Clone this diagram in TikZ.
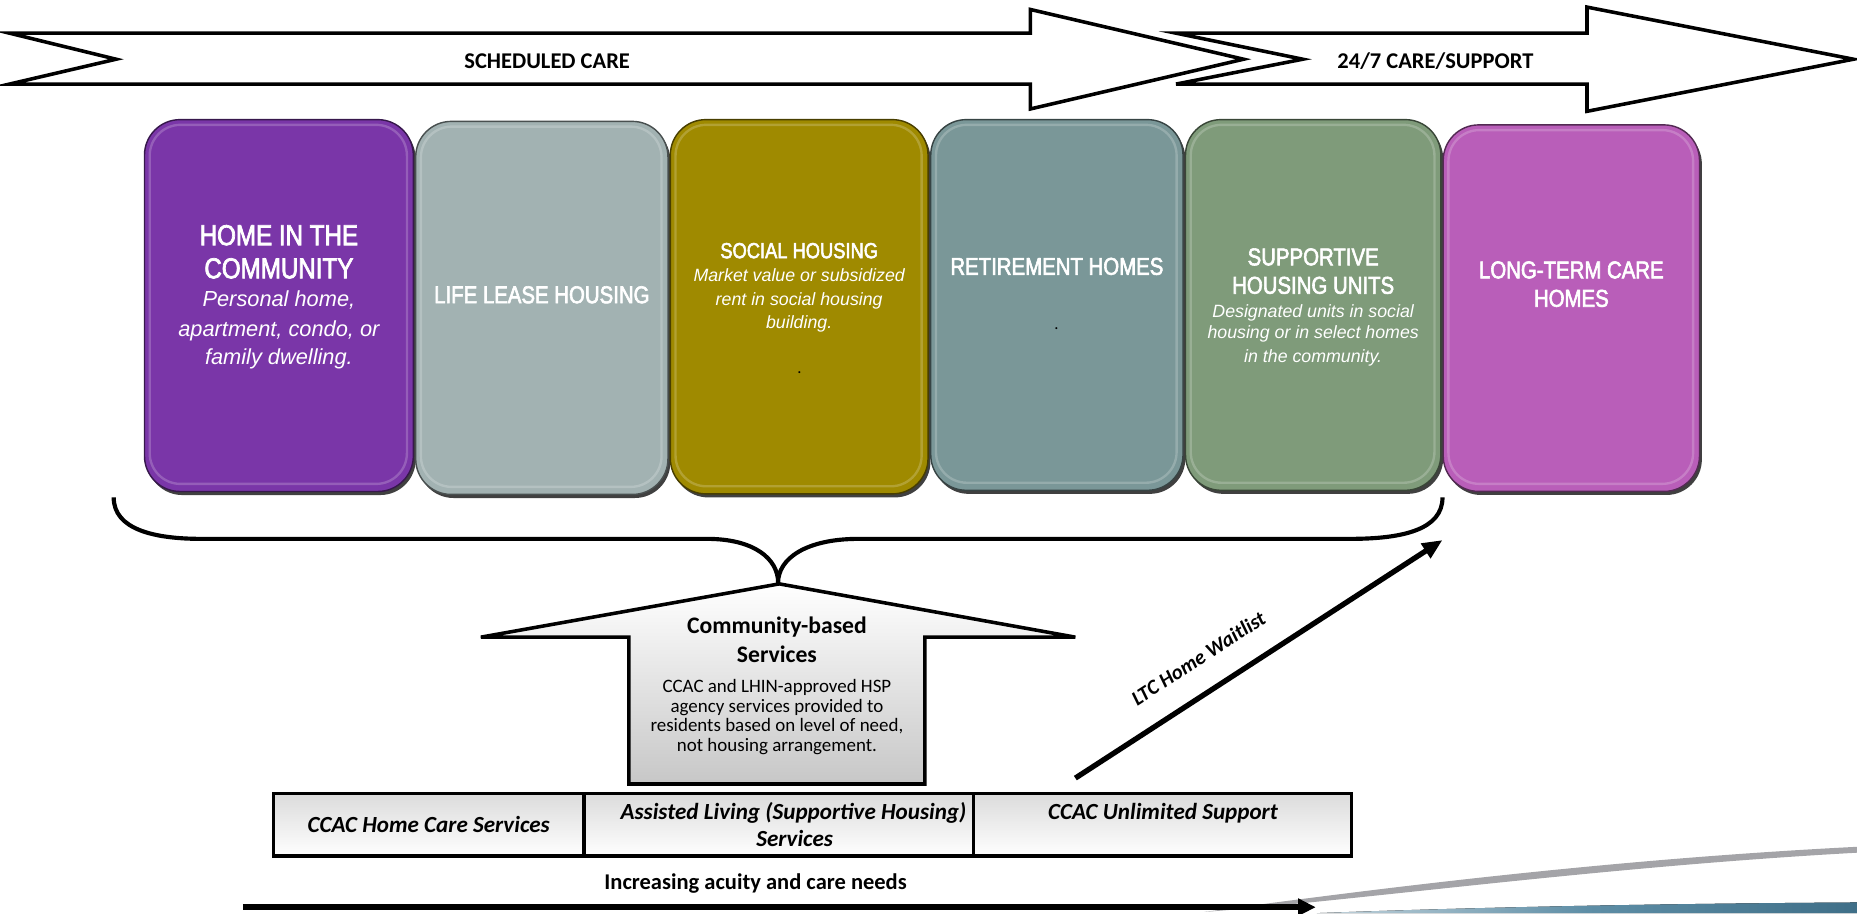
\documentclass[tikz,border=0pt]{standalone}
\usepackage{fontspec}
\setmainfont{Carlito}
\newfontfamily\titlefont[FakeStretch=0.84,FakeBold=2.5]{Liberation Sans}
\newfontfamily\descfont{Liberation Sans}
\usetikzlibrary{arrows.meta,calc}
\definecolor{cpurple}{HTML}{7A36A8}
\definecolor{cgray}{HTML}{A2B2B2}
\definecolor{colive}{HTML}{9F8A00}
\definecolor{cteal}{HTML}{7A9798}
\definecolor{cgreen}{HTML}{7F9B7A}
\definecolor{cmagenta}{HTML}{B95EB9}
\definecolor{swoosh}{HTML}{A4A4A8}
\definecolor{bandA}{HTML}{C4D4DC}
\definecolor{bandB}{HTML}{5E8EA6}
\definecolor{bandC}{HTML}{3F6F88}
\newcommand{\housebox}[6]{%
  \fill[black!75, rounded corners=30pt] ({#2-#4/2+2},{#3-#5/2+3}) rectangle ({#2+#4/2+2},{#3+#5/2+3});
  \node[draw=#6!45!black, line width=1.2pt, fill=#6, rounded corners=30pt, minimum width=#4pt, minimum height=#5pt, inner sep=0pt] (#1) at (#2,#3) {};
  \draw[#6!55!white, line width=2pt, rounded corners=26pt, opacity=0.45] ($(#1.north west)+(5,5)$) rectangle ($(#1.south east)+(-6,-7)$);
}
\newcommand{\tl}[4]{\node[lineanchor,#4] (#1) at (#2) {#3};}
\begin{document}
\begin{tikzpicture}[x=1pt,y=-1pt,
  arrowshape/.style={draw=black, line width=3pt, fill=white, line join=miter},
  lineanchor/.style={anchor=base, inner sep=0pt},
  toplabel/.style={font=\bfseries\fontsize{19}{22}\selectfont},
  ttl/.style={text=white},
  ttlA/.style={ttl, font=\titlefont\fontsize{24.3}{28}\selectfont},
  ttlB/.style={ttl, font=\titlefont\fontsize{20.5}{24}\selectfont},
  ttlC/.style={ttl, font=\titlefont\fontsize{18.4}{22}\selectfont},
  descA/.style={text=white, font=\descfont\itshape\fontsize{18.4}{22}\selectfont},
  descB/.style={text=white, font=\descfont\itshape\fontsize{15}{18}\selectfont},
  dotmark/.style={text=black, font=\fontsize{14}{16}\selectfont},
  cell/.style={draw=black, line width=3pt, top color=black!14, bottom color=white, inner sep=0pt},
  celltext/.style={font=\bfseries\itshape\fontsize{19.5}{23}\selectfont},
  housetitle/.style={font=\bfseries\fontsize{20}{24}\selectfont},
  housetext/.style={font=\fontsize{16}{16.5}\selectfont}
]
\useasboundingbox (0,0) rectangle (1568,771);
% top arrows
\draw[arrowshape] (8,28) -- (870,28) -- (870,8) -- (1050,50) -- (870,92) -- (870,71) -- (8,71) -- (98,50) -- cycle;
\draw[arrowshape] (993,28) -- (1340,28) -- (1340,6) -- (1565,50) -- (1340,94) -- (1340,71) -- (993,71) -- (1100,50) -- cycle;
\tl{sched}{462,57.5}{SCHEDULED CARE}{toplabel}
\tl{allday}{1212,57.5}{24/7 CARE/SUPPORT}{toplabel}
% housing boxes
\housebox{home}{235.5}{258}{227}{314}{cpurple}
\housebox{life}{457.5}{260}{213}{315}{cgray}
\housebox{social}{674.8}{259}{217.6}{316}{colive}
\housebox{retire}{892.4}{257.5}{213}{313}{cteal}
\housebox{support}{1108.8}{257.5}{215.6}{313}{cgreen}
\housebox{ltc}{1326.8}{260.2}{216.4}{309.5}{cmagenta}
% box texts
\tl{h1}{235.5,207}{HOME IN THE}{ttlA}
\tl{h2}{235.5,235}{COMMUNITY}{ttlA}
\tl{h3}{235.5,259}{Personal home,}{descA}
\tl{h4}{235.5,284}{apartment, condo, or}{descA}
\tl{h5}{235.5,308}{family dwelling.}{descA}
\tl{l1}{457.5,256}{LIFE LEASE HOUSING}{ttlB}
\tl{s1}{674.8,218}{SOCIAL HOUSING}{ttlC}
\tl{s2}{674.8,238}{Market value or subsidized}{descB}
\tl{s3}{674.8,258}{rent in social housing}{descB}
\tl{s4}{674.8,277}{building.}{descB}
\tl{s5}{675,315}{.}{dotmark}
\tl{r1}{892.4,232}{RETIREMENT HOMES}{ttlB}
\tl{r2}{892,278}{.}{dotmark}
\tl{u1}{1108.8,224}{SUPPORTIVE}{ttlB}
\tl{u2}{1108.8,248}{HOUSING UNITS}{ttlB}
\tl{u3}{1108.8,268}{Designated units in social}{descB}
\tl{u4}{1108.8,286}{housing or in select homes}{descB}
\tl{u5}{1108.8,306}{in the community.}{descB}
\tl{t1}{1326.8,235}{LONG-TERM CARE}{ttlB}
\tl{t2}{1326.8,259}{HOMES}{ttlB}
% brace
\draw[line width=3.5pt] (96,420) .. controls (96,447) and (130,455) .. (170,455) -- (597,455) .. controls (637,455) and (657,472) .. (657,492) .. controls (657,472) and (680,455) .. (725,455) -- (1140,455) .. controls (1185,455) and (1218,447) .. (1218,420);
% community-based services arrow
\draw[line width=3pt, line join=miter, top color=white, bottom color=black!22] (658,493) -- (908,538) -- (781,538) -- (781,662) -- (531,662) -- (531,538) -- (406,538) -- cycle;
\tl{cb1}{656,535}{Community-based}{housetitle}
\tl{cb2}{656,559}{Services}{housetitle}
\tl{cb3}{656,585}{CCAC and LHIN-approved HSP}{housetext}
\tl{cb4}{656,601.5}{agency services provided to}{housetext}
\tl{cb5}{656,618}{residents based on level of need,}{housetext}
\tl{cb6}{656,634.5}{not housing arrangement.}{housetext}
% table
\node[cell, minimum width=262pt, minimum height=53pt] (c1) at (362,696.5) {};
\node[cell, minimum width=329pt, minimum height=53pt] (c2) at (657.5,696.5) {};
\tl{c1t}{362,703}{CCAC Home Care Services}{celltext}
\tl{c2t}{670,692}{Assisted Living (Supportive Housing)}{celltext}
\tl{c2u}{671,715}{Services}{celltext}
\node[cell, minimum width=319pt, minimum height=53pt] (c3) at (981.5,696.5) {};
\tl{c3t}{982,692}{CCAC Unlimited Support}{celltext}
% LTC waitlist arrow
\coordinate (ltcs) at (908,657);
\coordinate (ltce) at (1218,456);
\draw[line width=4.5pt, -{Triangle[length=17pt,width=14pt]}] (ltcs) -- (ltce) node[sloped, pos=0.385, above=20pt, inner sep=0pt, font=\bfseries\itshape\fontsize{17.5}{20}\selectfont] (ltclabel) {LTC Home Waitlist};
% bottom-right decoration
\fill[swoosh] (1017,770) .. controls (1150,752) and (1350,726) .. (1568,715) -- (1568,720) .. controls (1350,732) and (1150,760) .. (1017,770) -- cycle;
\fill[left color=bandA, right color=bandC, middle color=bandB] (1112,771) .. controls (1250,766) and (1400,763) .. (1568,762) -- (1568,771) -- cycle;
% acuity arrow
\coordinate (accs) at (205,766);
\coordinate (acce) at (1111,766);
\draw[line width=5pt, -{Triangle[length=15pt,width=14pt]}] (accs) -- (acce);
\tl{acc}{638,751}{Increasing acuity and care needs}{font=\bfseries\fontsize{19}{22}\selectfont}
\end{tikzpicture}
\end{document}
